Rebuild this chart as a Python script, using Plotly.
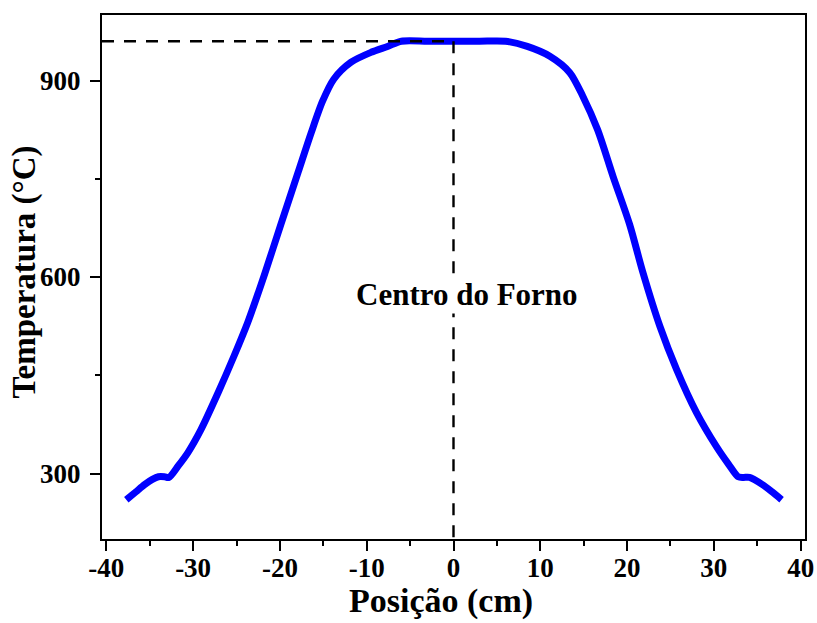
import plotly.graph_objects as go

# Furnace temperature profile along the tube axis
posicao = [-37.7, -36.6, -35.6, -34.7, -34.0, -33.3, -32.8, -31.7, -30.6, -29.1,
           -27.1, -25.3, -23.7, -21.8, -19.9, -17.9, -16.4, -15.1, -13.8, -11.8,
           -9.5, -7.6, -6.0, -3.0, 0.0, 3.0, 6.0, 8.5, 11.1, 13.4, 14.9, 16.6, 18.4, 20.3,
           21.8, 23.8, 25.7, 28.0, 30.3, 31.7, 32.8, 33.4, 34.1, 35.6, 36.7, 37.8]
temperatura = [260, 272, 283, 291, 295, 295, 294, 312, 332, 367,
               424, 479, 531, 603, 680, 760, 820, 868, 902, 928,
               943, 952, 960, 960, 960, 960, 960, 952, 937, 912, 876, 825, 753, 680,
               608, 524, 459, 393, 341, 314, 295, 294, 294, 283, 272, 260]

# Reference guides: furnace centre and peak temperature
centro_x = 0.0
pico_t = 960

x_range = [-40.5, 40.5]
y_range = [200, 1000]
x_ticks = [-40, -30, -20, -10, 0, 10, 20, 30, 40]
y_ticks = [300, 600, 900]

FONT = "Liberation Serif, Times New Roman, serif"

fig = go.Figure()
fig.add_trace(go.Scatter(
    x=posicao, y=temperatura, mode="lines",
    line=dict(color="#0000ff", width=7, shape="spline", smoothing=0.8),
    showlegend=False, hoverinfo="skip"))

# Dashed guide lines
fig.add_trace(go.Scatter(
    x=[x_range[0], centro_x], y=[pico_t, pico_t], mode="lines",
    line=dict(color="black", width=2.4, dash="12px,10px"),
    showlegend=False, hoverinfo="skip"))
fig.add_trace(go.Scatter(
    x=[centro_x, centro_x], y=[pico_t, y_range[0]], mode="lines",
    line=dict(color="black", width=2.4, dash="12px,10px"),
    showlegend=False, hoverinfo="skip"))

fig.add_annotation(
    x=1.6, y=573, xref="x", yref="y", text="Centro do Forno", showarrow=False,
    font=dict(family=FONT, size=31, color="black", weight="bold"),
    bgcolor="white")

# Axis titles
fig.add_annotation(
    x=0.482, y=-0.118, xref="paper", yref="paper", text="Posição (cm)",
    showarrow=False, xanchor="center", yanchor="middle",
    font=dict(family=FONT, size=34, color="black", weight="bold"))
fig.add_annotation(
    x=-0.11, y=0.51, xref="paper", yref="paper", text="Temperatura (°C)",
    showarrow=False, xanchor="center", yanchor="middle", textangle=-90,
    font=dict(family=FONT, size=33, color="black", weight="bold"))

tickfont = dict(family=FONT, size=27, color="black", weight="bold")

fig.update_layout(
    width=817, height=623,
    margin=dict(l=102, r=12, t=15, b=84, autoexpand=False),
    paper_bgcolor="white", plot_bgcolor="white",
    xaxis=dict(
        range=x_range, tickvals=x_ticks, ticktext=[str(v) for v in x_ticks],
        ticks="outside", ticklen=10, tickwidth=2, tickcolor="black",
        minor=dict(dtick=5, tick0=0, ticks="outside", ticklen=5, tickwidth=2, tickcolor="black"),
        showline=True, linewidth=2, linecolor="black", mirror=True,
        showgrid=False, zeroline=False, tickfont=tickfont, automargin=False,
        ticklabelstandoff=-6),
    yaxis=dict(
        range=y_range, tickvals=y_ticks, ticktext=[str(v) for v in y_ticks],
        ticks="outside", ticklen=10, tickwidth=2, tickcolor="black",
        minor=dict(dtick=150, tick0=0, ticks="outside", ticklen=5, tickwidth=2, tickcolor="black"),
        showline=True, linewidth=2, linecolor="black", mirror=True,
        showgrid=False, zeroline=False, tickfont=tickfont, ticklabelstandoff=4,
        automargin=False),
    xaxis2=dict(
        overlaying="x", side="top", range=x_range, dtick=5, tick0=0,
        ticks="inside", ticklen=4, tickwidth=2, tickcolor="black", automargin=False,
        showticklabels=False, showline=False, showgrid=False, zeroline=False),
    yaxis2=dict(
        overlaying="y", side="right", range=y_range, dtick=150, tick0=0,
        ticks="inside", ticklen=4, tickwidth=2, tickcolor="black", automargin=False,
        showticklabels=False, showline=False, showgrid=False, zeroline=False),
)

fig.write_html("out.html")
